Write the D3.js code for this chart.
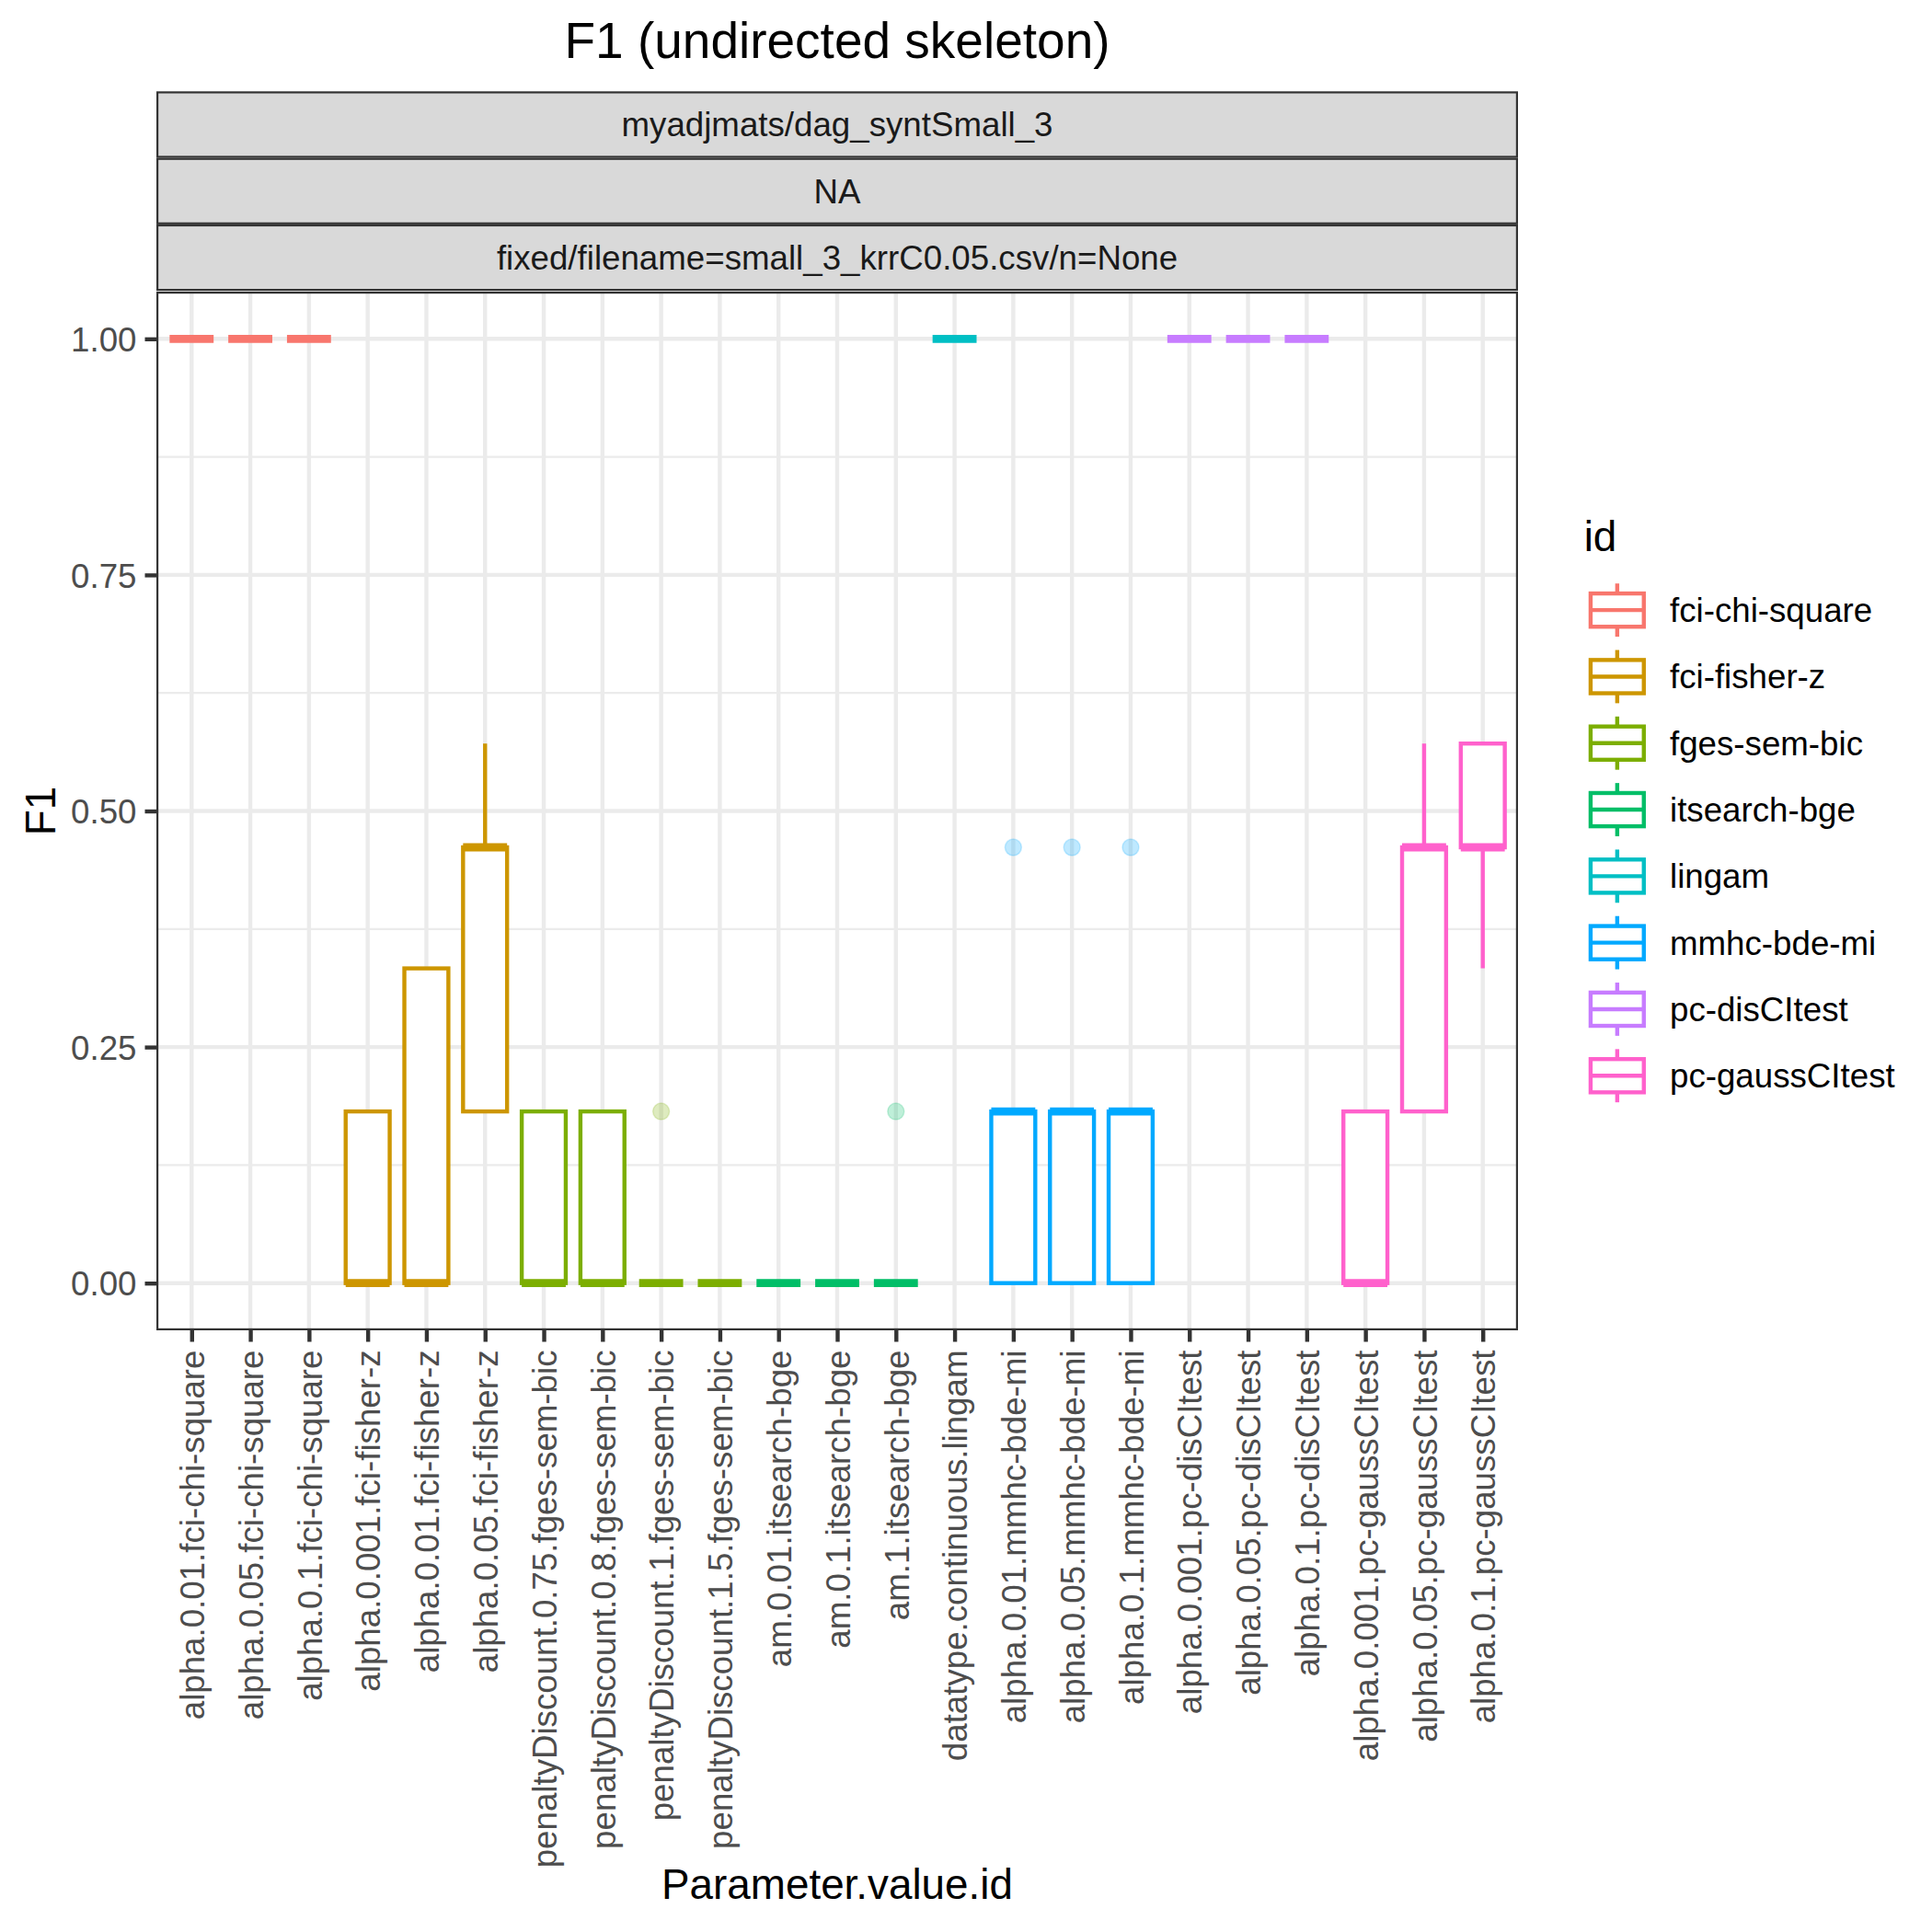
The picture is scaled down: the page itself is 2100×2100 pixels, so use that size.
<!DOCTYPE html>
<html>
<head>
<meta charset="utf-8">
<script src="https://cdn.jsdelivr.net/npm/d3@7"></script>
<style>
  body { margin: 0; background: #fff; }
  text { font-family: "Liberation Sans", Arial, sans-serif; }
</style>
</head>
<body>
<svg id="chart" width="2100" height="2100"></svg>
<script>
// categories on the x axis and the method each belongs to
var categories = ["alpha.0.01.fci-chi-square", "alpha.0.05.fci-chi-square", "alpha.0.1.fci-chi-square",
  "alpha.0.001.fci-fisher-z", "alpha.0.01.fci-fisher-z", "alpha.0.05.fci-fisher-z",
  "penaltyDiscount.0.75.fges-sem-bic", "penaltyDiscount.0.8.fges-sem-bic", "penaltyDiscount.1.fges-sem-bic",
  "penaltyDiscount.1.5.fges-sem-bic", "am.0.01.itsearch-bge", "am.0.1.itsearch-bge", "am.1.itsearch-bge",
  "datatype.continuous.lingam", "alpha.0.01.mmhc-bde-mi", "alpha.0.05.mmhc-bde-mi", "alpha.0.1.mmhc-bde-mi",
  "alpha.0.001.pc-disCItest", "alpha.0.05.pc-disCItest", "alpha.0.1.pc-disCItest",
  "alpha.0.001.pc-gaussCItest", "alpha.0.05.pc-gaussCItest", "alpha.0.1.pc-gaussCItest"];
var catIds = ["fci-chi-square", "fci-chi-square", "fci-chi-square",
  "fci-fisher-z", "fci-fisher-z", "fci-fisher-z",
  "fges-sem-bic", "fges-sem-bic", "fges-sem-bic", "fges-sem-bic",
  "itsearch-bge", "itsearch-bge", "itsearch-bge",
  "lingam", "mmhc-bde-mi", "mmhc-bde-mi", "mmhc-bde-mi",
  "pc-disCItest", "pc-disCItest", "pc-disCItest",
  "pc-gaussCItest", "pc-gaussCItest", "pc-gaussCItest"];

// box statistics per category
var whiskerLow = [1, 1, 1, 0, 0, 0.1818, 0, 0, 0, 0, 0, 0, 0, 1, 0, 0, 0, 1, 1, 1, 0, 0.1818, 0.3333];
var q1         = [1, 1, 1, 0, 0, 0.1818, 0, 0, 0, 0, 0, 0, 0, 1, 0, 0, 0, 1, 1, 1, 0, 0.1818, 0.4615];
var medians    = [1, 1, 1, 0, 0, 0.4615, 0, 0, 0, 0, 0, 0, 0, 1, 0.1818, 0.1818, 0.1818, 1, 1, 1, 0, 0.4615, 0.4615];
var q3         = [1, 1, 1, 0.1818, 0.3333, 0.4615, 0.1818, 0.1818, 0, 0, 0, 0, 0, 1, 0.1818, 0.1818, 0.1818, 1, 1, 1, 0.1818, 0.4615, 0.5714];
var whiskerHigh= [1, 1, 1, 0.1818, 0.3333, 0.5714, 0.1818, 0.1818, 0, 0, 0, 0, 0, 1, 0.1818, 0.1818, 0.1818, 1, 1, 1, 0.1818, 0.5714, 0.5714];
var outliers = [
  {cat: "penaltyDiscount.1.fges-sem-bic", value: 0.1818},
  {cat: "am.1.itsearch-bge", value: 0.1818},
  {cat: "alpha.0.01.mmhc-bde-mi", value: 0.4615},
  {cat: "alpha.0.05.mmhc-bde-mi", value: 0.4615},
  {cat: "alpha.0.1.mmhc-bde-mi", value: 0.4615}
];

var idList = ["fci-chi-square", "fci-fisher-z", "fges-sem-bic", "itsearch-bge",
  "lingam", "mmhc-bde-mi", "pc-disCItest", "pc-gaussCItest"];
var idColors = ["#F8766D", "#CD9600", "#7CAE00", "#00BE67", "#00BFC4", "#00A9FF", "#C77CFF", "#FF61CC"];
var yTicks = [0, 0.25, 0.5, 0.75, 1];
var yMinor = [0.125, 0.375, 0.625, 0.875];
var stripLabels = ["myadjmats/dag_syntSmall_3", "NA", "fixed/filename=small_3_krrC0.05.csv/n=None"];

function drawChart() {
  var pLeft = 170, pRight = 1650, pTop = 317, pBottom = 1446;
  var lw = 4.4;

  var svg = d3.select("#chart");

  var x = d3.scalePoint()
    .domain(categories)
    .range([pLeft, pRight])
    .padding(0.6);
  var y = d3.scaleLinear()
    .domain([-0.05, 1.05])
    .range([pBottom, pTop]);
  var color = d3.scaleOrdinal()
    .domain(idList)
    .range(idColors);
  var boxW = x.step() * 0.75;

  var rows = categories.map(function(c, i) {
    return {cat: c, id: catIds[i], lo: whiskerLow[i], q1: q1[i], med: medians[i], q3: q3[i], hi: whiskerHigh[i]};
  });

  // title
  svg.append("text")
    .attr("x", (pLeft + pRight) / 2).attr("y", 63)
    .attr("text-anchor", "middle")
    .attr("font-size", 55)
    .text("F1 (undirected skeleton)");

  // strips
  var stripTop = 99.3, stripH = 72.3;
  stripLabels.forEach(function(s, i) {
    var sy = stripTop + i * stripH;
    svg.append("rect")
      .attr("x", pLeft + lw / 4).attr("y", sy + lw / 4)
      .attr("width", pRight - pLeft - lw / 2).attr("height", stripH - lw / 2)
      .attr("fill", "#D9D9D9").attr("stroke", "#333333").attr("stroke-width", lw / 2);
    svg.append("text")
      .attr("x", (pLeft + pRight) / 2).attr("y", sy + stripH / 2 + 13)
      .attr("text-anchor", "middle")
      .attr("font-size", 36.7).attr("fill", "#1A1A1A")
      .text(s);
  });

  // panel
  var g = svg.append("g");
  g.append("rect")
    .attr("x", pLeft).attr("y", pTop).attr("width", pRight - pLeft).attr("height", pBottom - pTop)
    .attr("fill", "white");

  g.selectAll(".minor").data(yMinor).enter().append("line")
    .attr("x1", pLeft).attr("x2", pRight)
    .attr("y1", function(d) { return y(d); }).attr("y2", function(d) { return y(d); })
    .attr("stroke", "#EBEBEB").attr("stroke-width", lw / 2);
  g.selectAll(".majorY").data(yTicks).enter().append("line")
    .attr("x1", pLeft).attr("x2", pRight)
    .attr("y1", function(d) { return y(d); }).attr("y2", function(d) { return y(d); })
    .attr("stroke", "#EBEBEB").attr("stroke-width", lw);
  g.selectAll(".majorX").data(categories).enter().append("line")
    .attr("y1", pTop).attr("y2", pBottom)
    .attr("x1", function(d) { return x(d); }).attr("x2", function(d) { return x(d); })
    .attr("stroke", "#EBEBEB").attr("stroke-width", lw);

  // whiskers
  g.selectAll(".whiskUp").data(rows).enter().append("line")
    .attr("x1", function(d) { return x(d.cat); }).attr("x2", function(d) { return x(d.cat); })
    .attr("y1", function(d) { return y(d.q3); }).attr("y2", function(d) { return y(d.hi); })
    .attr("stroke", function(d) { return color(d.id); }).attr("stroke-width", lw);
  g.selectAll(".whiskDown").data(rows).enter().append("line")
    .attr("x1", function(d) { return x(d.cat); }).attr("x2", function(d) { return x(d.cat); })
    .attr("y1", function(d) { return y(d.q1); }).attr("y2", function(d) { return y(d.lo); })
    .attr("stroke", function(d) { return color(d.id); }).attr("stroke-width", lw);

  // boxes
  g.selectAll(".box").data(rows).enter().append("rect")
    .attr("x", function(d) { return x(d.cat) - boxW / 2; })
    .attr("y", function(d) { return y(d.q3); })
    .attr("width", boxW)
    .attr("height", function(d) { return y(d.q1) - y(d.q3); })
    .attr("fill", "white")
    .attr("stroke", function(d) { return color(d.id); }).attr("stroke-width", lw);
  g.selectAll(".median").data(rows).enter().append("line")
    .attr("x1", function(d) { return x(d.cat) - boxW / 2; })
    .attr("x2", function(d) { return x(d.cat) + boxW / 2; })
    .attr("y1", function(d) { return y(d.med); }).attr("y2", function(d) { return y(d.med); })
    .attr("stroke", function(d) { return color(d.id); }).attr("stroke-width", lw * 2);

  // outliers
  g.selectAll(".outlier").data(outliers).enter().append("circle")
    .attr("cx", function(d) { return x(d.cat); })
    .attr("cy", function(d) { return y(d.value); })
    .attr("r", 9)
    .attr("fill", function(d) { return color(catIds[categories.indexOf(d.cat)]); })
    .attr("fill-opacity", 0.25)
    .attr("stroke", function(d) { return color(catIds[categories.indexOf(d.cat)]); })
    .attr("stroke-opacity", 0.2).attr("stroke-width", 1.5);

  // border
  g.append("rect")
    .attr("x", pLeft + lw / 4).attr("y", pTop + lw / 4)
    .attr("width", pRight - pLeft - lw / 2).attr("height", pBottom - pTop - lw / 2)
    .attr("fill", "none").attr("stroke", "#333333").attr("stroke-width", lw / 2);

  // y axis
  var yAxis = svg.append("g")
    .attr("transform", "translate(" + pLeft + ",0)")
    .call(d3.axisLeft(y).tickValues(yTicks).tickFormat(d3.format(".2f")).tickSize(12.5).tickPadding(9));
  yAxis.select(".domain").remove();
  yAxis.selectAll(".tick line").attr("stroke", "#333333").attr("stroke-width", lw);
  yAxis.selectAll(".tick text")
    .attr("font-family", "Liberation Sans, Arial, sans-serif")
    .attr("font-size", 36.7).attr("fill", "#4D4D4D").attr("dy", "0.36em");

  // x axis
  var xAxis = svg.append("g")
    .attr("transform", "translate(0," + pBottom + ")")
    .call(d3.axisBottom(x).tickSize(12.5).tickPadding(9));
  xAxis.select(".domain").remove();
  xAxis.selectAll(".tick line").attr("stroke", "#333333").attr("stroke-width", lw);
  xAxis.selectAll(".tick text")
    .attr("font-family", "Liberation Sans, Arial, sans-serif")
    .attr("font-size", 36.7).attr("fill", "#4D4D4D")
    .attr("text-anchor", "end")
    .attr("transform", "rotate(-90)")
    .attr("x", -21.5).attr("y", 0).attr("dy", "0.36em");

  // axis titles
  svg.append("text")
    .attr("x", (pLeft + pRight) / 2).attr("y", 2064)
    .attr("text-anchor", "middle").attr("font-size", 45.8)
    .text("Parameter.value.id");
  svg.append("text")
    .attr("transform", "translate(60," + ((pTop + pBottom) / 2) + ") rotate(-90)")
    .attr("text-anchor", "middle").attr("font-size", 45.8)
    .text("F1");

  // legend
  var legX = 1721.7, keySize = 72.3, keyTop = 627;
  svg.append("text")
    .attr("x", legX).attr("y", 599)
    .attr("font-size", 45.8)
    .text("id");
  var key = svg.selectAll(".key").data(idList).enter().append("g")
    .attr("transform", function(d, i) { return "translate(" + legX + "," + (keyTop + i * keySize) + ")"; });
  key.append("line")
    .attr("x1", keySize / 2).attr("x2", keySize / 2)
    .attr("y1", keySize * 0.1).attr("y2", keySize * 0.9)
    .attr("stroke", function(d) { return color(d); }).attr("stroke-width", lw);
  key.append("rect")
    .attr("x", keySize * 0.1).attr("y", keySize * 0.25)
    .attr("width", keySize * 0.8).attr("height", keySize * 0.5)
    .attr("fill", "white")
    .attr("stroke", function(d) { return color(d); }).attr("stroke-width", lw);
  key.append("line")
    .attr("x1", keySize * 0.1).attr("x2", keySize * 0.9)
    .attr("y1", keySize / 2).attr("y2", keySize / 2)
    .attr("stroke", function(d) { return color(d); }).attr("stroke-width", lw);
  key.append("text")
    .attr("x", 93.3).attr("y", keySize / 2 + 13)
    .attr("font-size", 36.7)
    .text(function(d) { return d; });
}

drawChart();
</script>
</body>
</html>
